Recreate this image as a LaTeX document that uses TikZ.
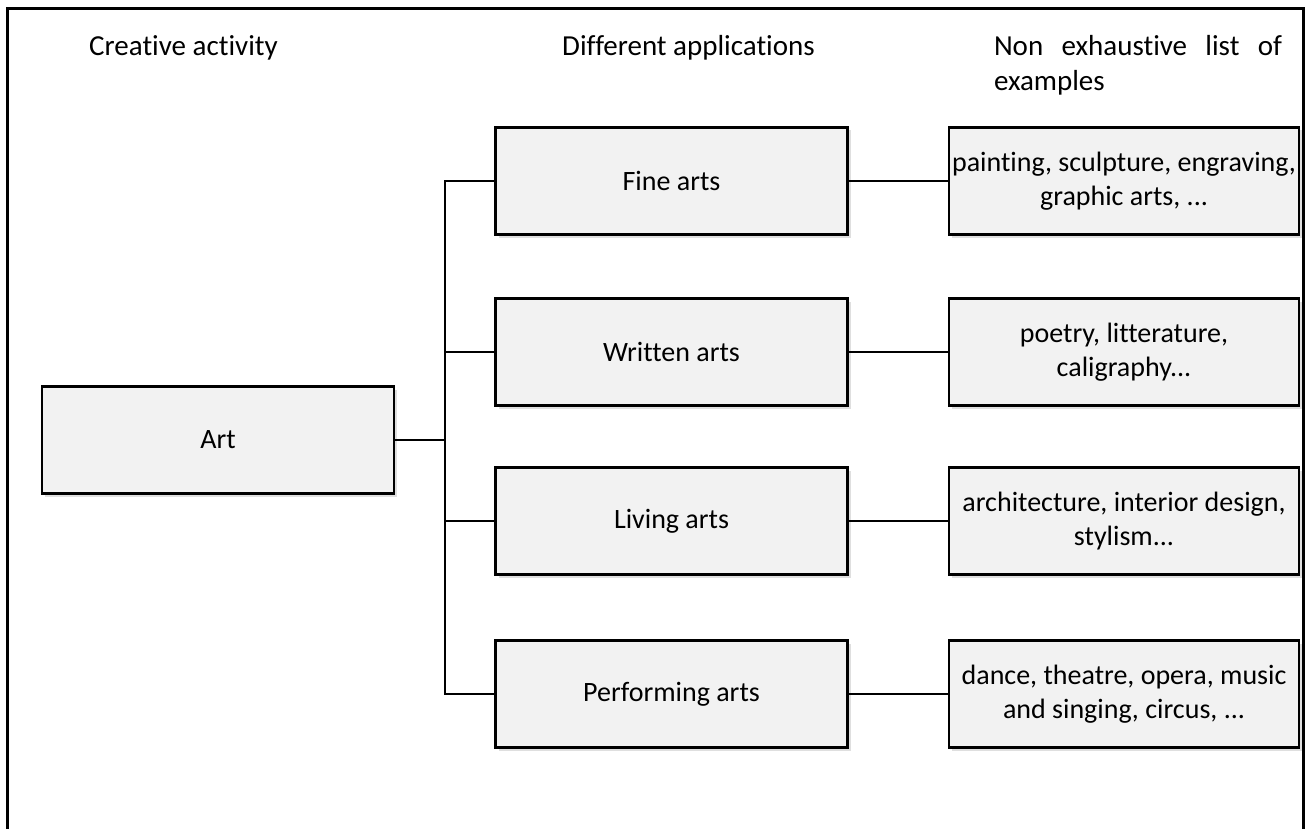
\documentclass[tikz,border=0pt]{standalone}
\usepackage{fontspec}
\setmainfont{Carlito}[Ligatures=NoCommon]
\usetikzlibrary{shadows}
\definecolor{boxfill}{HTML}{F2F2F2}
\tikzset{
  artbox/.style={draw, fill=boxfill, line width=2.5pt, minimum width=352pt,
    minimum height=107pt, align=center, inner sep=2pt,
    drop shadow={shadow xshift=3pt, shadow yshift=-3pt, opacity=0.25}},
  head/.style={inner sep=0pt, align=center, font=\fontsize{29}{35}\selectfont}
}
\begin{document}
\begin{tikzpicture}[x=1pt, y=-1pt, font=\fontsize{28}{34}\selectfont]
      \useasboundingbox (0,0) rectangle (1306,829);
      % frame, open at the bottom
      \draw[line width=3pt] (7,845) -- (7,9) -- (1303,9) -- (1303,845);
      % column titles
      \node[head] (h1) at (183.5,48) {Creative activity};
      \node[head] (h2) at (688.5,48) {Different applications};
      \node[head, text width=288pt, align=justify] (h3) at (1138,65.5)
        {Non exhaustive list of\linebreak examples};
      % boxes
      \node[artbox] (art) at (218,440) {Art};
      \node[artbox] (fine) at (671.5,181) {Fine arts};
      \node[artbox] (written) at (671.5,352) {Written arts};
      \node[artbox] (living) at (671.5,521) {Living arts};
      \node[artbox] (perform) at (671.5,694) {Performing arts};
      \node[artbox, minimum width=350pt, inner sep=0pt] (finex) at (1124,181)
        {painting, sculpture, engraving,\\graphic arts, ...};
      \node[artbox, minimum width=350pt, inner sep=0pt] (writtenex) at (1124,352)
        {poetry, litterature,\\caligraphy...};
      \node[artbox, minimum width=350pt, inner sep=0pt] (livingex) at (1124,521)
        {architecture, interior design,\\stylism...};
      \node[artbox, minimum width=350pt, inner sep=0pt] (performex) at (1124,694)
        {dance, theatre, opera, music\\and singing, circus, ...};
      \coordinate (trunk) at (445,440);
      \begin{scope}[line width=2.5pt]
        \draw (art.east) to (trunk);
        \draw (fine.west) -| (trunk);
        \draw (written.west) -| (trunk);
        \draw (living.west) -| (trunk);
        \draw (perform.west) -| (trunk);
        \draw (fine.east) to (finex.west);
        \draw (written.east) to (writtenex.west);
        \draw (living.east) to (livingex.west);
        \draw (perform.east) to (performex.west);
      \end{scope}
    \end{tikzpicture}
\end{document}
